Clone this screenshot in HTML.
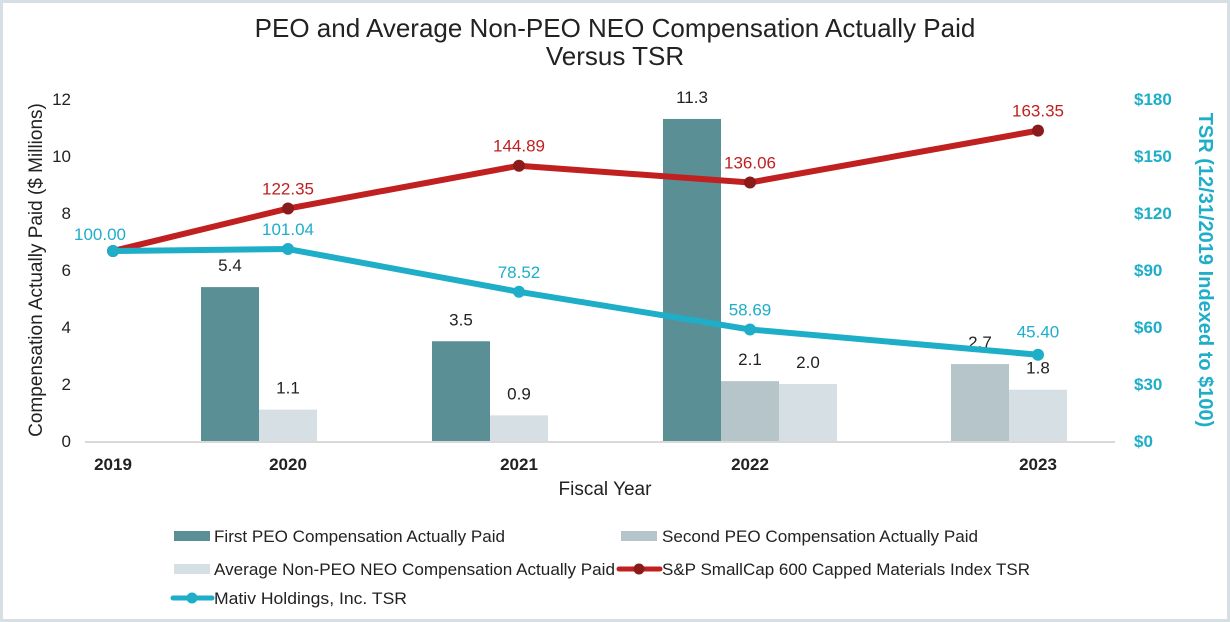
<!DOCTYPE html>
<html><head><meta charset="utf-8"><style>
html,body{margin:0;padding:0;background:#fff}
svg{display:block;font-family:"Liberation Sans",Arial,sans-serif}
</style></head><body>
<svg id="chart" width="1230" height="622" viewBox="0 0 1230 622">
<rect x="1.5" y="1.5" width="1227" height="619" fill="#fff" stroke="#d5dfe4" stroke-width="3"/>
<text x="615" y="37" text-anchor="middle" font-size="26" fill="#222">PEO and Average Non-PEO NEO Compensation Actually Paid</text>
<text x="615" y="65" text-anchor="middle" font-size="26" fill="#222">Versus TSR</text>
<g id="plot"></g>
<text transform="translate(42,270) rotate(-90)" text-anchor="middle" font-size="19" fill="#222">Compensation Actually Paid ($ Millions)</text>
<text transform="translate(1199,270) rotate(90)" text-anchor="middle" font-size="20" font-weight="bold" fill="#1eaec8">TSR (12/31/2019 Indexed to $100)</text>
<text x="605" y="495" text-anchor="middle" font-size="19" fill="#222">Fiscal Year</text>
<g font-size="17" fill="#222">
 <rect x="174" y="531" width="36" height="10" fill="#5a8f96"/>
 <text x="214" y="542" textLength="291" lengthAdjust="spacingAndGlyphs">First PEO Compensation Actually Paid</text>
 <rect x="621" y="531" width="36" height="10" fill="#b5c5c9"/>
 <text x="662" y="542" textLength="316" lengthAdjust="spacingAndGlyphs">Second PEO Compensation Actually Paid</text>
 <rect x="174" y="564" width="36" height="10" fill="#d6e0e4"/>
 <text x="214" y="575" textLength="401" lengthAdjust="spacingAndGlyphs">Average Non-PEO NEO Compensation Actually Paid</text>
 <line x1="619" y1="569" x2="660" y2="569" stroke="#c0201f" stroke-width="5" stroke-linecap="round"/>
 <circle cx="639" cy="569" r="5.5" fill="#8b1a1a"/>
 <text x="662" y="575" textLength="368" lengthAdjust="spacingAndGlyphs">S&amp;P SmallCap 600 Capped Materials Index TSR</text>
 <line x1="173" y1="598" x2="212" y2="598" stroke="#1eaec8" stroke-width="5" stroke-linecap="round"/>
 <circle cx="192" cy="598" r="5.5" fill="#1eaec8"/>
 <text x="214" y="604" textLength="193" lengthAdjust="spacingAndGlyphs">Mativ Holdings, Inc.  TSR</text>
</g>
</svg>
<script>
const years = ["2019","2020","2021","2022","2023"];
const firstPeo = [null, 5.4, 3.5, 11.3, null];
const secondPeo = [null, null, null, 2.1, 2.7];
const avgNeo = [null, 1.1, 0.9, 2.0, 1.8];
const spTsr = [100.00, 122.35, 144.89, 136.06, 163.35];
const mativTsr = [100.00, 101.04, 78.52, 58.69, 45.40];
const leftTicks = [0, 2, 4, 6, 8, 10, 12];
const rightTicks = [0, 30, 60, 90, 120, 150, 180];

const NS = "http://www.w3.org/2000/svg";
const plot = document.getElementById("plot");
const catX = [113, 288, 519, 750, 1038];
const x0 = 441, yTop = 99;
function yL(v){ return x0 - v * (x0 - yTop) / 12; }
function yR(v){ return x0 - v * (x0 - yTop) / 180; }
function xC(i){ return catX[i]; }
function mk(tag, attrs){ const e = document.createElementNS(NS, tag); for (const k in attrs) e.setAttribute(k, attrs[k]); plot.appendChild(e); return e; }

leftTicks.forEach(t => {
  const e = mk("text", {x: 71, y: yL(t) + 6, "text-anchor": "end", "font-size": 17, fill: "#222"});
  e.textContent = String(t);
  
  
});
rightTicks.forEach(t => {
  const e = mk("text", {x: 1134, y: yR(t) + 6, "text-anchor": "start", "font-size": 17, "font-weight": "bold", fill: "#1eaec8"});
  e.textContent = "$" + t;
  
  
});
const base = mk("line", {x1: 85, y1: x0 + 1, x2: 1115, y2: x0 + 1, stroke: "#d9d9d9", "stroke-width": 2});


years.forEach((y, i) => {
  const e = mk("text", {x: xC(i), y: 470, "text-anchor": "middle", "font-size": 17, "font-weight": "bold", fill: "#222"});
  e.textContent = y;
  
  
});

const barW = 58;
const series = [[firstPeo, "#5a8f96", "bar-first-peo"], [secondPeo, "#b5c5c9", "bar-second-peo"], [avgNeo, "#d6e0e4", "bar-avg-neo"]];
years.forEach((y, i) => {
  let slot = 0;
  series.forEach(s => {
    const v = s[0][i];
    if (v === null) return;
    const bx = xC(i) - 87 + slot * barW;
    slot++;
    const r = mk("rect", {x: bx, y: yL(v), width: barW, height: x0 - yL(v), fill: s[1]});
    
    
    const t = mk("text", {x: bx + barW / 2, y: yL(v) - 16, "text-anchor": "middle", "font-size": 17, fill: "#222"});
    t.textContent = v.toFixed(1);
    
    
  });
});

function drawLine(vals, color, mcolor, name, labelFn){
  const pts = vals.map((v, i) => xC(i) + "," + yR(v)).join(" ");
  const pl = mk("polyline", {points: pts, fill: "none", stroke: color, "stroke-width": 6, "stroke-linejoin": "round"});
  
  
  vals.forEach((v, i) => {
    const c = mk("circle", {cx: xC(i), cy: yR(v), r: 6, fill: mcolor});
    
    
    const lp = labelFn(i);
    if (!lp) return;
    const t = mk("text", {x: xC(i) + lp[0], y: yR(v) + lp[1], "text-anchor": "middle", "font-size": 17, fill: color});
    t.textContent = v.toFixed(2);
    
    
  });
}
drawLine(spTsr, "#c0201f", "#8b1a1a", "sp600-tsr", i => i === 0 ? null : [0, -14]);
drawLine(mativTsr, "#1eaec8", "#1eaec8", "mativ-tsr", i => i === 0 ? [-13, -11] : (i === 4 ? [0, -17] : [0, -14]));
</script>
</body></html>
